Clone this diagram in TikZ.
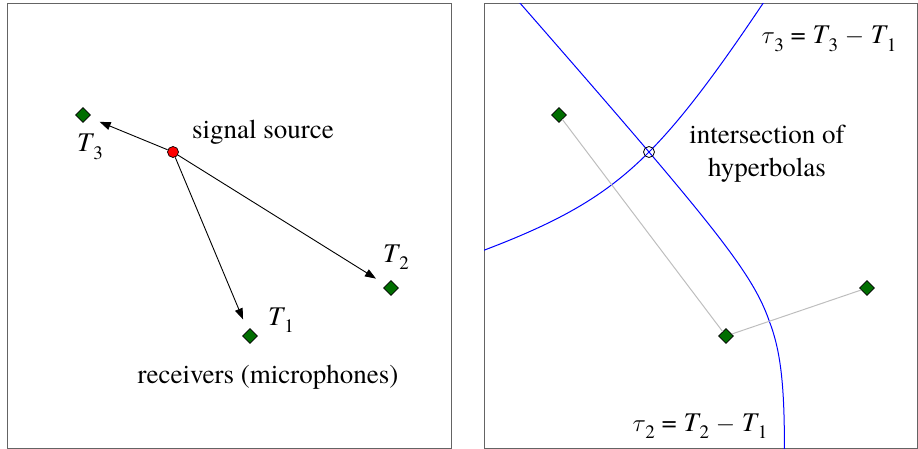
\documentclass[tikz,border=0pt]{standalone}
\usepackage{fontspec}
\setmainfont{TeX Gyre Termes}
\usetikzlibrary{shapes.geometric,arrows.meta}
\definecolor{rcvgreen}{RGB}{0,110,0}
\definecolor{boxgray}{RGB}{100,100,100}
\definecolor{linegray}{RGB}{190,190,190}
\newcommand{\Tsub}[1]{\textit{T}\kern-0.04em\raisebox{-0.28em}{\fontsize{19}{21}\selectfont #1}}
\newcommand{\tausub}[1]{$\tau$\kern-0.02em\raisebox{-0.28em}{\fontsize{19}{21}\selectfont #1}}
\begin{document}
\begin{tikzpicture}[x=1pt,y=-1pt,
  rcv/.style={draw=black,fill=rcvgreen,diamond,minimum size=15pt,inner sep=0pt,line width=0.7pt},
  src/.style={draw=black,fill=red,circle,minimum size=11pt,inner sep=0pt,line width=0.7pt},
  isect/.style={draw=black,circle,minimum size=11pt,inner sep=0pt,line width=0.8pt},
  lbl/.style={inner sep=0pt,font=\rmfamily\fontsize{27}{32}\selectfont},
  arr/.style={-{Triangle[length=11pt,width=8pt]},line width=0.9pt,shorten >=12pt},
  panel/.style={draw=boxgray,line width=1pt},
  hyp/.style={blue,line width=1pt},
  gline/.style={linegray,line width=1pt}]
\useasboundingbox (0,0) rectangle (918,449);
% panels
\draw[panel] (7,4) rectangle (451,448);
\draw[panel] (484,4) rectangle (917,448);
% left panel
\node[rcv] (t3) at (83,115) {};
\node[rcv] (t2) at (391,288) {};
\node[rcv] (t1) at (250,336) {};
\node[src] (s) at (173,152) {};
\draw[arr] (s) -- (t3);
\draw[arr] (s) -- (t2);
\draw[arr] (s) -- (t1);
\node[lbl] (lt3) at (90,147) {\Tsub{3}};
\node[lbl] (lt2) at (396,257) {\Tsub{2}};
\node[lbl] (lt1) at (281,320) {\Tsub{1}};
\node[lbl,anchor=base] (lsrc) at (263,139) {signal source};
\node[lbl,anchor=base] (lrcv) at (268,383) {receivers (microphones)};
% right panel
\begin{scope}
\clip (484,4) rectangle (917,448);
\draw[hyp] plot[domain=-2.7:1.8,samples=200,smooth,variable=\t]
  ({796.5-27.205*cosh(\t)+22.142*sinh(\t)+3*max(0,\t)},{312+9.263*cosh(\t)+65.03*sinh(\t)});
\draw[hyp] plot[domain=-1.6:1.6,samples=200,smooth,variable=\t]
  ({642.5-30.79*cosh(\t)+102.71*sinh(\t)},{225.5-40.74*cosh(\t)-77.62*sinh(\t)});
\end{scope}
\node[rcv] (r3) at (559,115) {};
\node[rcv] (r2) at (867,288) {};
\node[rcv] (r1) at (726,336) {};
\draw[gline] (r3) -- (r1);
\draw[gline] (r1) -- (r2);
\node[isect] (x) at (649,152) {};
\node[lbl,anchor=base] (li1) at (767,144) {intersection of};
\node[lbl,anchor=base] (li2) at (767,177) {hyperbolas};
\node[lbl,anchor=base] (ltau3) at (829,44) {\tausub{3} = \Tsub{3} $-$ \Tsub{1}};
\node[lbl,anchor=base] (ltau2) at (700,431) {\tausub{2} = \Tsub{2} $-$ \Tsub{1}};
\end{tikzpicture}
\end{document}
